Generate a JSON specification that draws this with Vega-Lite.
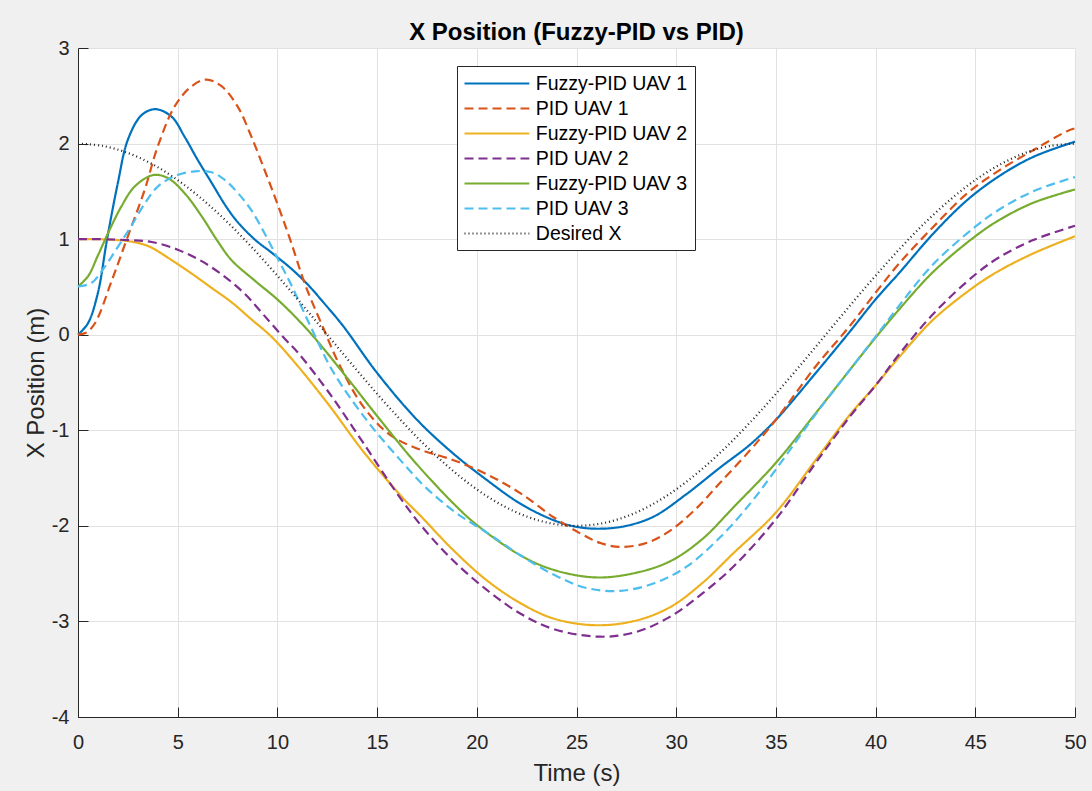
{
  "$schema": "https://vega.github.io/schema/vega-lite/v6.json",
  "width": 997,
  "height": 669,
  "autosize": {"type": "none"},
  "padding": {"left": 78, "top": 48, "right": 17, "bottom": 74},
  "background": "#f0f0f0",
  "title": {"text": "X Position (Fuzzy-PID vs PID)", "fontSize": 24, "fontWeight": "bold", "font": "Liberation Sans", "color": "#000000", "anchor": "middle", "baseline": "bottom", "offset": 4, "dy": 35},
  "config": {
    "view": {"fill": "white", "stroke": null},
    "axis": {"domainColor": "#262626", "tickColor": "#262626", "labelColor": "#262626", "titleColor": "#262626", "gridColor": "#e1e1e1", "labelFont": "Liberation Sans", "titleFont": "Liberation Sans", "labelFontSize": 20, "titleFontSize": 24, "titleFontWeight": "normal", "tickSize": -10, "domainWidth": 1, "tickWidth": 1}
  },
  "data": {"values": [
    {"series": "Fuzzy-PID UAV 1", "t": 0, "x": 0},
    {"series": "Fuzzy-PID UAV 1", "t": 0.5, "x": 0.12},
    {"series": "Fuzzy-PID UAV 1", "t": 1, "x": 0.44},
    {"series": "Fuzzy-PID UAV 1", "t": 1.45, "x": 0.99},
    {"series": "Fuzzy-PID UAV 1", "t": 2, "x": 1.59},
    {"series": "Fuzzy-PID UAV 1", "t": 2.5, "x": 2.04},
    {"series": "Fuzzy-PID UAV 1", "t": 3.2, "x": 2.30},
    {"series": "Fuzzy-PID UAV 1", "t": 3.9, "x": 2.36},
    {"series": "Fuzzy-PID UAV 1", "t": 4.7, "x": 2.28},
    {"series": "Fuzzy-PID UAV 1", "t": 5.35, "x": 2.07},
    {"series": "Fuzzy-PID UAV 1", "t": 6, "x": 1.83},
    {"series": "Fuzzy-PID UAV 1", "t": 6.7, "x": 1.59},
    {"series": "Fuzzy-PID UAV 1", "t": 7.4, "x": 1.35},
    {"series": "Fuzzy-PID UAV 1", "t": 8, "x": 1.18},
    {"series": "Fuzzy-PID UAV 1", "t": 8.9, "x": 0.99},
    {"series": "Fuzzy-PID UAV 1", "t": 9.7, "x": 0.86},
    {"series": "Fuzzy-PID UAV 1", "t": 10.7, "x": 0.69},
    {"series": "Fuzzy-PID UAV 1", "t": 11.5, "x": 0.53},
    {"series": "Fuzzy-PID UAV 1", "t": 12.3, "x": 0.34},
    {"series": "Fuzzy-PID UAV 1", "t": 13.3, "x": 0.09},
    {"series": "Fuzzy-PID UAV 1", "t": 15, "x": -0.40},
    {"series": "Fuzzy-PID UAV 1", "t": 17, "x": -0.89},
    {"series": "Fuzzy-PID UAV 1", "t": 18.8, "x": -1.24},
    {"series": "Fuzzy-PID UAV 1", "t": 20.5, "x": -1.52},
    {"series": "Fuzzy-PID UAV 1", "t": 22.2, "x": -1.77},
    {"series": "Fuzzy-PID UAV 1", "t": 23.85, "x": -1.94},
    {"series": "Fuzzy-PID UAV 1", "t": 25, "x": -2.01},
    {"series": "Fuzzy-PID UAV 1", "t": 26.2, "x": -2.03},
    {"series": "Fuzzy-PID UAV 1", "t": 27.5, "x": -2.0},
    {"series": "Fuzzy-PID UAV 1", "t": 28.9, "x": -1.90},
    {"series": "Fuzzy-PID UAV 1", "t": 30.5, "x": -1.67},
    {"series": "Fuzzy-PID UAV 1", "t": 32.2, "x": -1.39},
    {"series": "Fuzzy-PID UAV 1", "t": 33.7, "x": -1.15},
    {"series": "Fuzzy-PID UAV 1", "t": 35, "x": -0.89},
    {"series": "Fuzzy-PID UAV 1", "t": 37, "x": -0.40},
    {"series": "Fuzzy-PID UAV 1", "t": 38.7, "x": 0.03},
    {"series": "Fuzzy-PID UAV 1", "t": 40, "x": 0.37},
    {"series": "Fuzzy-PID UAV 1", "t": 41.2, "x": 0.65},
    {"series": "Fuzzy-PID UAV 1", "t": 42.9, "x": 1.06},
    {"series": "Fuzzy-PID UAV 1", "t": 44.6, "x": 1.41},
    {"series": "Fuzzy-PID UAV 1", "t": 46.2, "x": 1.66},
    {"series": "Fuzzy-PID UAV 1", "t": 47.9, "x": 1.86},
    {"series": "Fuzzy-PID UAV 1", "t": 50, "x": 2.02},

    {"series": "PID UAV 1", "t": 0, "x": 0},
    {"series": "PID UAV 1", "t": 0.4, "x": 0.02},
    {"series": "PID UAV 1", "t": 0.85, "x": 0.12},
    {"series": "PID UAV 1", "t": 1.7, "x": 0.57},
    {"series": "PID UAV 1", "t": 2.5, "x": 1.03},
    {"series": "PID UAV 1", "t": 3.35, "x": 1.52},
    {"series": "PID UAV 1", "t": 4, "x": 1.97},
    {"series": "PID UAV 1", "t": 4.85, "x": 2.39},
    {"series": "PID UAV 1", "t": 5.7, "x": 2.60},
    {"series": "PID UAV 1", "t": 6.45, "x": 2.67},
    {"series": "PID UAV 1", "t": 7.2, "x": 2.60},
    {"series": "PID UAV 1", "t": 8, "x": 2.39},
    {"series": "PID UAV 1", "t": 8.7, "x": 2.07},
    {"series": "PID UAV 1", "t": 9.4, "x": 1.70},
    {"series": "PID UAV 1", "t": 10, "x": 1.37},
    {"series": "PID UAV 1", "t": 10.65, "x": 0.99},
    {"series": "PID UAV 1", "t": 11.4, "x": 0.52},
    {"series": "PID UAV 1", "t": 12.3, "x": 0.07},
    {"series": "PID UAV 1", "t": 13.1, "x": -0.31},
    {"series": "PID UAV 1", "t": 14.3, "x": -0.75},
    {"series": "PID UAV 1", "t": 15.6, "x": -1.04},
    {"series": "PID UAV 1", "t": 17, "x": -1.19},
    {"series": "PID UAV 1", "t": 18.8, "x": -1.31},
    {"series": "PID UAV 1", "t": 20.5, "x": -1.46},
    {"series": "PID UAV 1", "t": 22.2, "x": -1.66},
    {"series": "PID UAV 1", "t": 23.85, "x": -1.91},
    {"series": "PID UAV 1", "t": 25.2, "x": -2.08},
    {"series": "PID UAV 1", "t": 26.2, "x": -2.18},
    {"series": "PID UAV 1", "t": 27.2, "x": -2.22},
    {"series": "PID UAV 1", "t": 28.5, "x": -2.18},
    {"series": "PID UAV 1", "t": 29.7, "x": -2.05},
    {"series": "PID UAV 1", "t": 30.9, "x": -1.84},
    {"series": "PID UAV 1", "t": 32.2, "x": -1.55},
    {"series": "PID UAV 1", "t": 33.7, "x": -1.21},
    {"series": "PID UAV 1", "t": 35, "x": -0.89},
    {"series": "PID UAV 1", "t": 37, "x": -0.33},
    {"series": "PID UAV 1", "t": 38.7, "x": 0.09},
    {"series": "PID UAV 1", "t": 40, "x": 0.44},
    {"series": "PID UAV 1", "t": 41.2, "x": 0.75},
    {"series": "PID UAV 1", "t": 42.9, "x": 1.13},
    {"series": "PID UAV 1", "t": 44.6, "x": 1.48},
    {"series": "PID UAV 1", "t": 46.2, "x": 1.72},
    {"series": "PID UAV 1", "t": 47.9, "x": 1.93},
    {"series": "PID UAV 1", "t": 49.6, "x": 2.13},
    {"series": "PID UAV 1", "t": 50, "x": 2.16},

    {"series": "Fuzzy-PID UAV 2", "t": 0, "x": 1.0},
    {"series": "Fuzzy-PID UAV 2", "t": 1, "x": 1.0},
    {"series": "Fuzzy-PID UAV 2", "t": 2, "x": 0.99},
    {"series": "Fuzzy-PID UAV 2", "t": 2.5, "x": 0.98},
    {"series": "Fuzzy-PID UAV 2", "t": 3.2, "x": 0.95},
    {"series": "Fuzzy-PID UAV 2", "t": 3.7, "x": 0.91},
    {"series": "Fuzzy-PID UAV 2", "t": 4.7, "x": 0.78},
    {"series": "Fuzzy-PID UAV 2", "t": 5.7, "x": 0.64},
    {"series": "Fuzzy-PID UAV 2", "t": 6.7, "x": 0.49},
    {"series": "Fuzzy-PID UAV 2", "t": 7.7, "x": 0.34},
    {"series": "Fuzzy-PID UAV 2", "t": 8.7, "x": 0.16},
    {"series": "Fuzzy-PID UAV 2", "t": 9.7, "x": -0.02},
    {"series": "Fuzzy-PID UAV 2", "t": 10.95, "x": -0.31},
    {"series": "Fuzzy-PID UAV 2", "t": 12.6, "x": -0.74},
    {"series": "Fuzzy-PID UAV 2", "t": 14.3, "x": -1.22},
    {"series": "Fuzzy-PID UAV 2", "t": 16.3, "x": -1.71},
    {"series": "Fuzzy-PID UAV 2", "t": 17.2, "x": -1.90},
    {"series": "Fuzzy-PID UAV 2", "t": 18.8, "x": -2.25},
    {"series": "Fuzzy-PID UAV 2", "t": 20.5, "x": -2.57},
    {"series": "Fuzzy-PID UAV 2", "t": 22.2, "x": -2.81},
    {"series": "Fuzzy-PID UAV 2", "t": 23.85, "x": -2.97},
    {"series": "Fuzzy-PID UAV 2", "t": 26, "x": -3.04},
    {"series": "Fuzzy-PID UAV 2", "t": 28, "x": -2.99},
    {"series": "Fuzzy-PID UAV 2", "t": 29.7, "x": -2.85},
    {"series": "Fuzzy-PID UAV 2", "t": 31.3, "x": -2.60},
    {"series": "Fuzzy-PID UAV 2", "t": 32.9, "x": -2.28},
    {"series": "Fuzzy-PID UAV 2", "t": 35, "x": -1.86},
    {"series": "Fuzzy-PID UAV 2", "t": 37, "x": -1.31},
    {"series": "Fuzzy-PID UAV 2", "t": 38.7, "x": -0.84},
    {"series": "Fuzzy-PID UAV 2", "t": 40, "x": -0.53},
    {"series": "Fuzzy-PID UAV 2", "t": 41.2, "x": -0.23},
    {"series": "Fuzzy-PID UAV 2", "t": 42.9, "x": 0.16},
    {"series": "Fuzzy-PID UAV 2", "t": 45, "x": 0.51},
    {"series": "Fuzzy-PID UAV 2", "t": 46.2, "x": 0.67},
    {"series": "Fuzzy-PID UAV 2", "t": 47.9, "x": 0.85},
    {"series": "Fuzzy-PID UAV 2", "t": 50, "x": 1.03},

    {"series": "PID UAV 2", "t": 0, "x": 1.0},
    {"series": "PID UAV 2", "t": 1, "x": 1.0},
    {"series": "PID UAV 2", "t": 2.5, "x": 0.99},
    {"series": "PID UAV 2", "t": 3.7, "x": 0.97},
    {"series": "PID UAV 2", "t": 5, "x": 0.89},
    {"series": "PID UAV 2", "t": 6.2, "x": 0.77},
    {"series": "PID UAV 2", "t": 7.4, "x": 0.60},
    {"series": "PID UAV 2", "t": 8.4, "x": 0.42},
    {"series": "PID UAV 2", "t": 9.3, "x": 0.21},
    {"series": "PID UAV 2", "t": 10.4, "x": -0.05},
    {"series": "PID UAV 2", "t": 11, "x": -0.18},
    {"series": "PID UAV 2", "t": 12.6, "x": -0.61},
    {"series": "PID UAV 2", "t": 14.3, "x": -1.13},
    {"series": "PID UAV 2", "t": 16, "x": -1.66},
    {"series": "PID UAV 2", "t": 17.3, "x": -2.02},
    {"series": "PID UAV 2", "t": 18.8, "x": -2.36},
    {"series": "PID UAV 2", "t": 20.5, "x": -2.67},
    {"series": "PID UAV 2", "t": 22.2, "x": -2.92},
    {"series": "PID UAV 2", "t": 23.85, "x": -3.08},
    {"series": "PID UAV 2", "t": 26.2, "x": -3.16},
    {"series": "PID UAV 2", "t": 28, "x": -3.11},
    {"series": "PID UAV 2", "t": 29.7, "x": -2.95},
    {"series": "PID UAV 2", "t": 31.3, "x": -2.71},
    {"series": "PID UAV 2", "t": 32.9, "x": -2.42},
    {"series": "PID UAV 2", "t": 35, "x": -1.93},
    {"series": "PID UAV 2", "t": 37, "x": -1.34},
    {"series": "PID UAV 2", "t": 38.7, "x": -0.86},
    {"series": "PID UAV 2", "t": 40, "x": -0.53},
    {"series": "PID UAV 2", "t": 41.2, "x": -0.20},
    {"series": "PID UAV 2", "t": 42.9, "x": 0.22},
    {"series": "PID UAV 2", "t": 45, "x": 0.63},
    {"series": "PID UAV 2", "t": 46.2, "x": 0.81},
    {"series": "PID UAV 2", "t": 47.9, "x": 0.99},
    {"series": "PID UAV 2", "t": 50, "x": 1.14},

    {"series": "Fuzzy-PID UAV 3", "t": 0, "x": 0.505},
    {"series": "Fuzzy-PID UAV 3", "t": 0.5, "x": 0.61},
    {"series": "Fuzzy-PID UAV 3", "t": 1, "x": 0.83},
    {"series": "Fuzzy-PID UAV 3", "t": 1.5, "x": 1.06},
    {"series": "Fuzzy-PID UAV 3", "t": 2.17, "x": 1.34},
    {"series": "Fuzzy-PID UAV 3", "t": 2.84, "x": 1.55},
    {"series": "Fuzzy-PID UAV 3", "t": 3.76, "x": 1.67},
    {"series": "Fuzzy-PID UAV 3", "t": 4.5, "x": 1.64},
    {"series": "Fuzzy-PID UAV 3", "t": 5.35, "x": 1.48},
    {"series": "Fuzzy-PID UAV 3", "t": 6.2, "x": 1.24},
    {"series": "Fuzzy-PID UAV 3", "t": 7, "x": 0.98},
    {"series": "Fuzzy-PID UAV 3", "t": 7.7, "x": 0.78},
    {"series": "Fuzzy-PID UAV 3", "t": 8.9, "x": 0.56},
    {"series": "Fuzzy-PID UAV 3", "t": 10.1, "x": 0.35},
    {"series": "Fuzzy-PID UAV 3", "t": 11.6, "x": 0.03},
    {"series": "Fuzzy-PID UAV 3", "t": 13.3, "x": -0.40},
    {"series": "Fuzzy-PID UAV 3", "t": 15, "x": -0.85},
    {"series": "Fuzzy-PID UAV 3", "t": 16.8, "x": -1.31},
    {"series": "Fuzzy-PID UAV 3", "t": 18.8, "x": -1.76},
    {"series": "Fuzzy-PID UAV 3", "t": 20, "x": -1.99},
    {"series": "Fuzzy-PID UAV 3", "t": 22.2, "x": -2.31},
    {"series": "Fuzzy-PID UAV 3", "t": 23.85, "x": -2.46},
    {"series": "Fuzzy-PID UAV 3", "t": 26, "x": -2.54},
    {"series": "Fuzzy-PID UAV 3", "t": 28, "x": -2.49},
    {"series": "Fuzzy-PID UAV 3", "t": 29.7, "x": -2.37},
    {"series": "Fuzzy-PID UAV 3", "t": 31.3, "x": -2.14},
    {"series": "Fuzzy-PID UAV 3", "t": 32.9, "x": -1.80},
    {"series": "Fuzzy-PID UAV 3", "t": 35, "x": -1.34},
    {"series": "Fuzzy-PID UAV 3", "t": 37, "x": -0.82},
    {"series": "Fuzzy-PID UAV 3", "t": 38.7, "x": -0.37},
    {"series": "Fuzzy-PID UAV 3", "t": 40, "x": -0.03},
    {"series": "Fuzzy-PID UAV 3", "t": 41.2, "x": 0.27},
    {"series": "Fuzzy-PID UAV 3", "t": 42.9, "x": 0.66},
    {"series": "Fuzzy-PID UAV 3", "t": 45, "x": 1.03},
    {"series": "Fuzzy-PID UAV 3", "t": 46.2, "x": 1.20},
    {"series": "Fuzzy-PID UAV 3", "t": 47.9, "x": 1.38},
    {"series": "Fuzzy-PID UAV 3", "t": 50, "x": 1.52},

    {"series": "PID UAV 3", "t": 0, "x": 0.505},
    {"series": "PID UAV 3", "t": 0.67, "x": 0.54},
    {"series": "PID UAV 3", "t": 1.34, "x": 0.71},
    {"series": "PID UAV 3", "t": 2, "x": 0.92},
    {"series": "PID UAV 3", "t": 2.68, "x": 1.14},
    {"series": "PID UAV 3", "t": 3.34, "x": 1.37},
    {"series": "PID UAV 3", "t": 4, "x": 1.55},
    {"series": "PID UAV 3", "t": 4.85, "x": 1.66},
    {"series": "PID UAV 3", "t": 5.85, "x": 1.71},
    {"series": "PID UAV 3", "t": 6.7, "x": 1.70},
    {"series": "PID UAV 3", "t": 7.36, "x": 1.62},
    {"series": "PID UAV 3", "t": 8.03, "x": 1.48},
    {"series": "PID UAV 3", "t": 8.7, "x": 1.30},
    {"series": "PID UAV 3", "t": 9.36, "x": 1.06},
    {"series": "PID UAV 3", "t": 10.03, "x": 0.79},
    {"series": "PID UAV 3", "t": 10.65, "x": 0.54},
    {"series": "PID UAV 3", "t": 11.7, "x": 0.07},
    {"series": "PID UAV 3", "t": 12.8, "x": -0.39},
    {"series": "PID UAV 3", "t": 14.5, "x": -0.90},
    {"series": "PID UAV 3", "t": 16.2, "x": -1.32},
    {"series": "PID UAV 3", "t": 17.5, "x": -1.61},
    {"series": "PID UAV 3", "t": 19, "x": -1.87},
    {"series": "PID UAV 3", "t": 20.5, "x": -2.07},
    {"series": "PID UAV 3", "t": 22.2, "x": -2.31},
    {"series": "PID UAV 3", "t": 23.85, "x": -2.51},
    {"series": "PID UAV 3", "t": 25.5, "x": -2.65},
    {"series": "PID UAV 3", "t": 27.2, "x": -2.68},
    {"series": "PID UAV 3", "t": 28.9, "x": -2.60},
    {"series": "PID UAV 3", "t": 30.5, "x": -2.43},
    {"series": "PID UAV 3", "t": 32.2, "x": -2.12},
    {"series": "PID UAV 3", "t": 33.7, "x": -1.77},
    {"series": "PID UAV 3", "t": 35, "x": -1.41},
    {"series": "PID UAV 3", "t": 37, "x": -0.83},
    {"series": "PID UAV 3", "t": 38.7, "x": -0.37},
    {"series": "PID UAV 3", "t": 40, "x": -0.02},
    {"series": "PID UAV 3", "t": 41.2, "x": 0.31},
    {"series": "PID UAV 3", "t": 42.9, "x": 0.74},
    {"series": "PID UAV 3", "t": 45, "x": 1.13},
    {"series": "PID UAV 3", "t": 46.2, "x": 1.31},
    {"series": "PID UAV 3", "t": 47.9, "x": 1.50},
    {"series": "PID UAV 3", "t": 50, "x": 1.65},

    {"series": "Desired X", "t": 0, "x": 2.0},
    {"series": "Desired X", "t": 1.25, "x": 1.975},
    {"series": "Desired X", "t": 2.5, "x": 1.902},
    {"series": "Desired X", "t": 3.75, "x": 1.782},
    {"series": "Desired X", "t": 5, "x": 1.618},
    {"series": "Desired X", "t": 6.25, "x": 1.414},
    {"series": "Desired X", "t": 7.5, "x": 1.176},
    {"series": "Desired X", "t": 8.75, "x": 0.908},
    {"series": "Desired X", "t": 10, "x": 0.618},
    {"series": "Desired X", "t": 11.25, "x": 0.313},
    {"series": "Desired X", "t": 12.5, "x": 0},
    {"series": "Desired X", "t": 13.75, "x": -0.313},
    {"series": "Desired X", "t": 15, "x": -0.618},
    {"series": "Desired X", "t": 16.25, "x": -0.908},
    {"series": "Desired X", "t": 17.5, "x": -1.176},
    {"series": "Desired X", "t": 18.75, "x": -1.414},
    {"series": "Desired X", "t": 20, "x": -1.618},
    {"series": "Desired X", "t": 21.25, "x": -1.782},
    {"series": "Desired X", "t": 22.5, "x": -1.902},
    {"series": "Desired X", "t": 23.75, "x": -1.975},
    {"series": "Desired X", "t": 25, "x": -2.0},
    {"series": "Desired X", "t": 26.25, "x": -1.975},
    {"series": "Desired X", "t": 27.5, "x": -1.902},
    {"series": "Desired X", "t": 28.75, "x": -1.782},
    {"series": "Desired X", "t": 30, "x": -1.618},
    {"series": "Desired X", "t": 31.25, "x": -1.414},
    {"series": "Desired X", "t": 32.5, "x": -1.176},
    {"series": "Desired X", "t": 33.75, "x": -0.908},
    {"series": "Desired X", "t": 35, "x": -0.618},
    {"series": "Desired X", "t": 36.25, "x": -0.313},
    {"series": "Desired X", "t": 37.5, "x": 0},
    {"series": "Desired X", "t": 38.75, "x": 0.313},
    {"series": "Desired X", "t": 40, "x": 0.618},
    {"series": "Desired X", "t": 41.25, "x": 0.908},
    {"series": "Desired X", "t": 42.5, "x": 1.176},
    {"series": "Desired X", "t": 43.75, "x": 1.414},
    {"series": "Desired X", "t": 45, "x": 1.618},
    {"series": "Desired X", "t": 46.25, "x": 1.782},
    {"series": "Desired X", "t": 47.5, "x": 1.902},
    {"series": "Desired X", "t": 48.75, "x": 1.975},
    {"series": "Desired X", "t": 50, "x": 2.0}
  ]},
  "mark": {"type": "line", "interpolate": "catmull-rom"},
  "encoding": {
    "x": {"field": "t", "type": "quantitative", "scale": {"domain": [0, 50], "nice": false},
      "axis": {"title": "Time (s)", "values": [0, 5, 10, 15, 20, 25, 30, 35, 40, 45, 50], "labelPadding": 25, "titlePadding": 9, "labelFlush": false}},
    "y": {"field": "x", "type": "quantitative", "scale": {"domain": [-4, 3], "nice": false},
      "axis": {"title": "X Position (m)", "values": [-4, -3, -2, -1, 0, 1, 2, 3], "labelExpr": "'' + datum.value", "labelPadding": 19, "titlePadding": 3}},
    "color": {"field": "series", "type": "nominal",
      "scale": {"domain": ["Fuzzy-PID UAV 1", "PID UAV 1", "Fuzzy-PID UAV 2", "PID UAV 2", "Fuzzy-PID UAV 3", "PID UAV 3", "Desired X"],
                "range": ["#0072BD", "#D95319", "#EDB120", "#7E2F8E", "#77AC30", "#4DBEEE", "#222222"]},
      "legend": {"title": null, "orient": "none", "legendX": 379, "legendY": 18, "symbolType": "M-3.6,0H3.6", "symbolSize": 324, "symbolOffset": 22.4, "labelOffset": 28.4, "labelFontSize": 19.5, "labelFont": "Liberation Sans", "labelColor": "#000000", "fillColor": "white", "strokeColor": "#262626", "padding": 7, "rowPadding": 5, "labelLimit": 300}},
    "strokeDash": {"field": "series", "type": "nominal",
      "scale": {"domain": ["Fuzzy-PID UAV 1", "PID UAV 1", "Fuzzy-PID UAV 2", "PID UAV 2", "Fuzzy-PID UAV 3", "PID UAV 3", "Desired X"],
                "range": [[1, 0], [9, 5], [1, 0], [9, 5], [1, 0], [9, 5], [1, 3]]}},
    "strokeWidth": {"field": "series", "type": "nominal",
      "scale": {"domain": ["Fuzzy-PID UAV 1", "PID UAV 1", "Fuzzy-PID UAV 2", "PID UAV 2", "Fuzzy-PID UAV 3", "PID UAV 3", "Desired X"],
                "range": [2.2, 2.2, 2.2, 2.2, 2.2, 2.2, 1]}}
  }
}
